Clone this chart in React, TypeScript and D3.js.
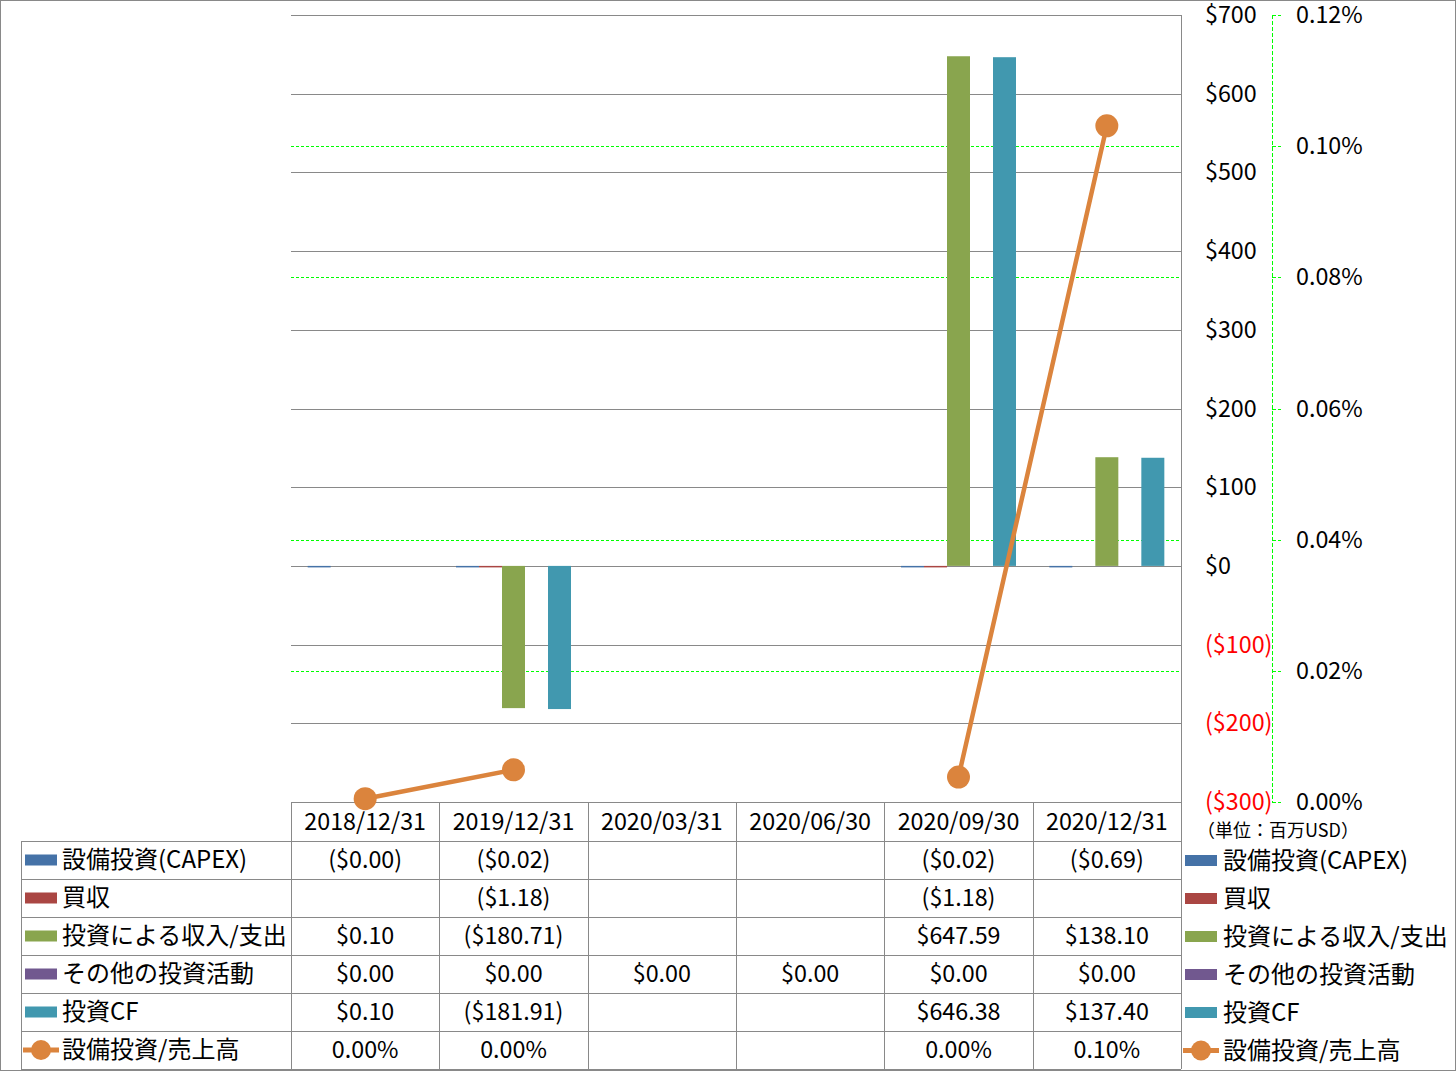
import React from 'react';
import * as d3 from 'd3';

const categories = ['2018/12/31', '2019/12/31', '2020/03/31', '2020/06/30', '2020/09/30', '2020/12/31'];
const seriesNames = ['設備投資(CAPEX)', '買収', '投資による収入/支出', 'その他の投資活動', '投資CF'];
const seriesColors = ['#4572A7', '#AA4643', '#89A54E', '#71588F', '#4198AF'];
const capex: (number | null)[] = [-0.004, -0.02, null, null, -0.02, -0.69];
const acquisitions: (number | null)[] = [null, -1.18, null, null, -1.18, null];
const investIncome: (number | null)[] = [0.1, -180.71, null, null, 647.59, 138.1];
const otherInvest: (number | null)[] = [0, 0, 0, 0, 0, 0];
const investCF: (number | null)[] = [0.1, -181.91, null, null, 646.38, 137.4];
const lineName = '設備投資/売上高';
const lineColor = '#DB843D';
const capexRatio: (number | null)[] = [0.0005, 0.0049, null, null, 0.0038, 0.1031];
const leftTicks = [-300, -200, -100, 0, 100, 200, 300, 400, 500, 600, 700];
const rightTicks = [0, 0.02, 0.04, 0.06, 0.08, 0.1, 0.12];
const unitLabel = '（単位：百万USD）';

const seriesValues = [capex, acquisitions, investIncome, otherInvest, investCF];

const FONT = "'Noto Sans CJK JP', 'Noto Sans', sans-serif";
const GRID = '#898989';
const NUM = 23.3;

const W = 1456, H = 1071;
const plotL = 291, plotR = 1181, plotT = 15, plotB = 802;
const headerH = 39, rowH = 38;
const tableLeft = 21;

function fmtMoney(v: number | null): string {
  if (v === null) return '';
  const s = d3.format(',.2f')(Math.abs(v));
  return v < 0 ? `($${s})` : `$${s}`;
}
function fmtPct(v: number | null): string {
  if (v === null) return '';
  return `${v.toFixed(2)}%`;
}
function fmtAxis(v: number): string {
  return v < 0 ? `($${Math.abs(v)})` : `$${v}`;
}

export default function App() {
  const x = d3.scaleBand<string>().domain(categories).range([plotL, plotR]);
  const bw = x.bandwidth();
  const groupW = 115;
  const xs = d3.scaleBand<string>().domain(seriesNames).range([(bw - groupW) / 2, (bw + groupW) / 2]);
  const yL = d3.scaleLinear().domain([-300, 700]).range([plotB, plotT]);
  const yR = d3.scaleLinear().domain([0, 0.12]).range([plotB, plotT]);

  const cx = (c: string) => (x(c) as number) + bw / 2;

  const lineGen = d3
    .line<number | null>()
    .defined((d) => d !== null)
    .x((_, i) => cx(categories[i]))
    .y((d) => yR(d as number));

  const crisp = (v: number) => Math.round(v) + 0.5;

  const headerTop = plotB;
  const rowTop = (i: number) => headerTop + headerH + i * rowH;
  const tableBottom = rowTop(6);
  const colEdges = categories.map((c) => x(c) as number).concat([plotR]);

  const rowLabels = [...seriesNames, lineName];
  const rowTexts: string[][] = [
    ...seriesValues.map((arr) => arr.map(fmtMoney)),
    capexRatio.map(fmtPct),
  ];

  const legendKey = (i: number, kx: number, cy: number) => {
    if (i < 5) {
      return <rect x={kx} y={cy - 5.5} width={32} height={11} fill={seriesColors[i]} />;
    }
    return (
      <g>
        <line x1={kx - 2} x2={kx + 34} y1={cy} y2={cy} stroke={lineColor} strokeWidth={5} />
        <circle cx={kx + 16} cy={cy} r={10} fill={lineColor} />
      </g>
    );
  };

  return (
    <svg
      width={W}
      height={H}
      style={{ position: 'absolute', left: 0, top: 0, background: '#fff' }}
      fontFamily={FONT}
    >
      <rect x={0.5} y={0.5} width={W - 1} height={H - 1} fill="#fff" stroke={GRID} />

      {/* secondary gridlines (green dashed) */}
      {rightTicks
        .filter((t) => t > 0)
        .map((t) => (
          <line
            key={'gr' + t}
            x1={plotL}
            x2={plotR}
            y1={crisp(yR(t))}
            y2={crisp(yR(t))}
            stroke="#00FF00"
            strokeDasharray="3,2"
            strokeWidth={1}
          />
        ))}

      {/* primary gridlines */}
      {leftTicks.map((t) => (
        <line key={'gl' + t} x1={plotL} x2={plotR} y1={crisp(yL(t))} y2={crisp(yL(t))} stroke={GRID} strokeWidth={1} />
      ))}
      <line x1={crisp(plotR)} x2={crisp(plotR)} y1={plotT} y2={plotB} stroke={GRID} />

      {/* bars */}
      {seriesValues.map((arr, si) =>
        arr.map((v, ci) => {
          if (v === null || v === 0) return null;
          const y0 = yL(0);
          const y1 = yL(v);
          let top = Math.min(y0, y1);
          let h = Math.abs(y1 - y0);
          if (h < 1) {
            if (v > 0) return null;
            h = 1.5;
            top = y0;
          }
          return (
            <rect
              key={`b${si}-${ci}`}
              x={(x(categories[ci]) as number) + (xs(seriesNames[si]) as number)}
              y={top}
              width={xs.bandwidth()}
              height={h}
              fill={seriesColors[si]}
            />
          );
        })
      )}

      {/* line */}
      <path d={lineGen(capexRatio) || ''} fill="none" stroke={lineColor} strokeWidth={4.5} strokeLinejoin="round" />
      {capexRatio.map((v, i) =>
        v === null ? null : <circle key={'m' + i} cx={cx(categories[i])} cy={yR(v)} r={11.5} fill={lineColor} />
      )}

      {/* primary axis labels, displayed on right */}
      {leftTicks.map((t) => (
        <text key={'lt' + t} x={1205} y={yL(t) + 8} fontSize={NUM} fill={t < 0 ? '#FF0000' : '#000'}>
          {fmtAxis(t)}
        </text>
      ))}

      {/* secondary axis */}
      <line x1={1272.5} x2={1272.5} y1={plotT} y2={plotB} stroke="#00FF00" strokeDasharray="4,2" />
      {rightTicks.map((t) => (
        <g key={'rt' + t}>
          <line x1={1272} x2={1281} y1={crisp(yR(t))} y2={crisp(yR(t))} stroke="#00FF00" strokeDasharray="4,2" />
          <text x={1296} y={yR(t) + 8} fontSize={NUM} fill="#000">
            {fmtPct(t)}
          </text>
        </g>
      ))}

      <text x={1197} y={837} fontSize={18} fill="#000">
        {unitLabel}
      </text>

      {/* data table */}
      {colEdges.map((ex, i) => (
        <line key={'cv' + i} x1={crisp(ex)} x2={crisp(ex)} y1={headerTop} y2={tableBottom} stroke={GRID} />
      ))}
      <line x1={crisp(tableLeft)} x2={crisp(tableLeft)} y1={rowTop(0)} y2={tableBottom} stroke={GRID} />
      {[0, 1, 2, 3, 4, 5, 6].map((i) => (
        <line key={'rh' + i} x1={tableLeft} x2={plotR} y1={crisp(rowTop(i))} y2={crisp(rowTop(i))} stroke={GRID} />
      ))}
      {categories.map((c) => (
        <text key={'h' + c} x={cx(c)} y={headerTop + headerH / 2 + 8} fontSize={NUM} textAnchor="middle" fill="#000">
          {c}
        </text>
      ))}
      {rowLabels.map((lab, ri) => {
        const cy = rowTop(ri) + rowH / 2;
        return (
          <g key={'row' + ri}>
            {legendKey(ri, 25, cy)}
            <text x={62} y={cy + 8} fontSize={24} fill="#000">
              {lab}
            </text>
            {rowTexts[ri].map((t, ci) => (
              <text key={ci} x={cx(categories[ci])} y={cy + 8} fontSize={NUM} textAnchor="middle" fill="#000">
                {t}
              </text>
            ))}
          </g>
        );
      })}

      {/* right legend */}
      {rowLabels.map((lab, ri) => {
        const cy = rowTop(ri) + rowH / 2 + 0.5;
        return (
          <g key={'lg' + ri}>
            {legendKey(ri, 1185, cy)}
            <text x={1223} y={cy + 8} fontSize={24} fill="#000">
              {lab}
            </text>
          </g>
        );
      })}
    </svg>
  );
}
